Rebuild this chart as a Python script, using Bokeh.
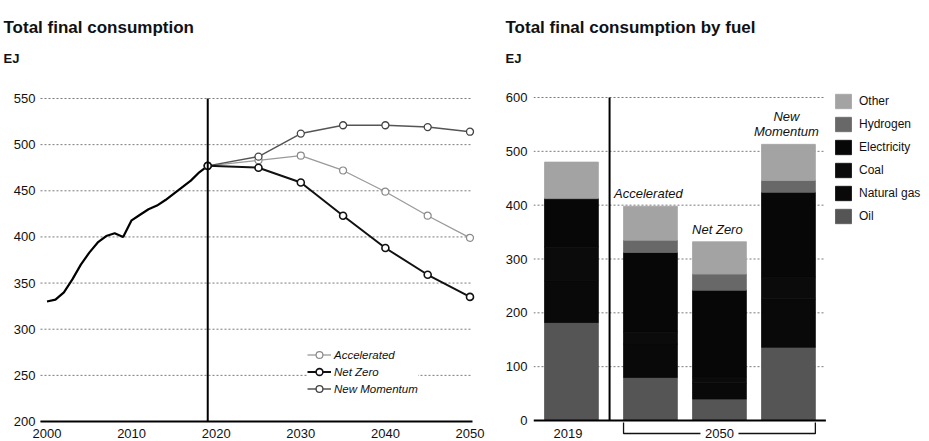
from bokeh.plotting import figure
from bokeh.layouts import row, column
from bokeh.models import (Range1d, FixedTicker, Legend, LegendItem, ColumnDataSource)
from bokeh.core.properties import value
from bokeh.embed import file_html
from bokeh.resources import INLINE

FONT = "Liberation Sans"

# ---------------- data: left chart (EJ) ----------------
hist_years = list(range(2000, 2020))
hist_values = [330, 332, 340, 354, 370, 383, 394, 401, 404, 400,
               418, 424, 430, 434, 440, 447, 454, 461, 470, 477]
scen_years = [2019, 2025, 2030, 2035, 2040, 2045, 2050]
accelerated = [477, 483, 488, 472, 449, 423, 399]
net_zero = [477, 475, 459, 423, 388, 359, 335]
new_momentum = [477, 487, 512, 521, 521, 519, 514]
y_ticks_left = [200, 250, 300, 350, 400, 450, 500, 550]
x_ticks_left = [2000, 2010, 2020, 2030, 2040, 2050]
split_year = 2019

# ---------------- data: right chart (EJ) ----------------
bar_labels = ["2019", "Accelerated", "Net Zero", "New\nMomentum"]
fuels = ["Oil", "Natural gas", "Coal", "Electricity", "Hydrogen", "Other"]
oil = [182, 80, 40, 136]
natural_gas = [78, 62, 30, 90]
coal = [62, 22, 10, 40]
electricity = [90, 148, 162, 158]
hydrogen = [1, 23, 30, 22]
other = [67, 63, 60, 67]
y_ticks_right = [0, 100, 200, 300, 400, 500, 600]
group_label = "2050"

titles = ["Total final consumption", "Total final consumption by fuel"]
unit_label = "EJ"

fuel_colors = ["#555555", "#090909", "#0b0b0b", "#070707", "#686868", "#a3a3a3"]
GRID_COLOR = "#7a7a7a"
GRID_DASH = "2 2"

PAGE_W, PAGE_H = 929, 441
TITLE_H = 80
LEFT_W = 490
RIGHT_W = PAGE_W - LEFT_W
CHART_H = PAGE_H - TITLE_H


def base_fig(**kw):
    p = figure(output_backend="svg", toolbar_location=None, **kw)
    p.outline_line_color = None
    p.background_fill_color = "white"
    p.border_fill_color = "white"
    return p


def style_yaxis(p, ticks, standoff):
    p.yaxis.ticker = FixedTicker(ticks=ticks)
    p.yaxis.axis_line_color = None
    p.yaxis.major_tick_line_color = None
    p.yaxis.minor_tick_line_color = None
    p.yaxis.major_tick_out = 0
    p.yaxis.major_tick_in = 0
    p.yaxis.major_label_standoff = standoff
    p.yaxis.major_label_text_font = FONT
    p.yaxis.major_label_text_font_size = "13px"
    p.yaxis.major_label_text_color = "#111111"


# ================= TITLE STRIPS =================
def title_fig(width, text_x, title):
    t = base_fig(width=width, height=TITLE_H, x_range=Range1d(0, width),
                 y_range=Range1d(TITLE_H, 0), x_axis_location=None, y_axis_location=None,
                 min_border_left=0, min_border_right=0, min_border_top=0, min_border_bottom=0)
    t.grid.visible = False
    t.text(x=[text_x], y=[27], text=[title], text_font=value(FONT), text_font_size="17px",
           text_font_style="bold", text_color="#111111", text_baseline="alphabetic")
    t.text(x=[text_x], y=[58], text=[unit_label], text_font=value(FONT), text_font_size="13px",
           text_font_style="bold", text_color="#111111", text_baseline="alphabetic")
    return t


t1 = title_fig(LEFT_W, 3, titles[0])
t2 = title_fig(RIGHT_W, 505 - LEFT_W, titles[1])

# ================= LEFT CHART =================
L_BL = 30                      # frame left on the page
X2000_PAGE, X2050_PAGE = 46.5, 469.5
GRID_L_PAGE, GRID_R_PAGE = 40, 472
ppx1 = (X2050_PAGE - X2000_PAGE) / 50.0
L_X0 = 2000 - (X2000_PAGE - L_BL) / ppx1
L_X1 = 2050 + (LEFT_W - X2050_PAGE) / ppx1
L_550_PAGE, L_200_PAGE = 98, 421
ppy1 = (L_200_PAGE - L_550_PAGE) / 350.0
L_Y1 = 550 + (L_550_PAGE - TITLE_H) / ppy1
L_Y0 = 200 - (PAGE_H - L_200_PAGE) / ppy1


def lx(page_x):
    return 2000 + (page_x - X2000_PAGE) / ppx1


def ly(page_y):
    return 200 + (L_200_PAGE - page_y) / ppy1


p1 = base_fig(width=LEFT_W, height=CHART_H, x_range=Range1d(L_X0, L_X1),
              y_range=Range1d(L_Y0, L_Y1), x_axis_location=None,
              min_border_left=L_BL, min_border_right=0, min_border_top=0,
              min_border_bottom=0)
p1.grid.visible = False
style_yaxis(p1, y_ticks_left, -5)

gx0, gx1 = lx(GRID_L_PAGE), lx(GRID_R_PAGE)
p1.segment(x0=[gx0] * len(y_ticks_left), y0=y_ticks_left,
           x1=[gx1] * len(y_ticks_left), y1=y_ticks_left,
           line_color=GRID_COLOR, line_dash=GRID_DASH, line_width=1)

p1.line(hist_years, hist_values, line_color="black", line_width=2.2)

r_acc_l = p1.line(scen_years, accelerated, line_color="#9a9a9a", line_width=1.3)
r_acc_s = p1.scatter(scen_years, accelerated, marker="circle", size=7, fill_color="white",
                     line_color="#8a8a8a", line_width=1.2)
r_nm_l = p1.line(scen_years, new_momentum, line_color="#555555", line_width=1.5)
r_nm_s = p1.scatter(scen_years, new_momentum, marker="circle", size=7, fill_color="white",
                    line_color="#444444", line_width=1.3)
r_nz_l = p1.line(scen_years, net_zero, line_color="#111111", line_width=2.0)
r_nz_s = p1.scatter(scen_years, net_zero, marker="circle", size=7, fill_color="white",
                    line_color="#111111", line_width=1.6)

# 2019 divider, x-axis baseline and x tick labels
p1.segment(x0=[split_year], y0=[y_ticks_left[0]], x1=[split_year], y1=[y_ticks_left[-1]],
           line_color="black", line_width=2)
p1.segment(x0=[gx0], y0=[y_ticks_left[0]], x1=[gx1], y1=[y_ticks_left[0]],
           line_color="black", line_width=2)
p1.text(x=x_ticks_left, y=[ly(433)] * len(x_ticks_left), text=[str(v) for v in x_ticks_left],
        text_font=value(FONT), text_font_size="13px", text_color="#111111",
        text_align="center", text_baseline="middle")

leg1 = Legend(items=[
    LegendItem(label="Accelerated", renderers=[r_acc_l, r_acc_s]),
    LegendItem(label="Net Zero", renderers=[r_nz_l, r_nz_s]),
    LegendItem(label="New Momentum", renderers=[r_nm_l, r_nm_s]),
], location=(307 - L_BL, PAGE_H - 397), orientation="vertical")
leg1.label_text_font = FONT
leg1.label_text_font_size = "11.5px"
leg1.label_text_font_style = "italic"
leg1.label_text_color = "#111111"
leg1.glyph_width = 24
leg1.glyph_height = 17
leg1.label_height = 17
leg1.label_standoff = 3
leg1.spacing = 0
leg1.padding = 5
leg1.margin = 0
leg1.border_line_color = None
leg1.background_fill_color = "white"
leg1.background_fill_alpha = 1.0
p1.add_layout(leg1, "center")

# ================= RIGHT CHART =================
R_FRAME_LEFT, R_GRID_RIGHT = 533, 824
R_Y600_PAGE, R_Y0_PAGE = 97, 420
R_PX_PER_X = 69.0
R_X0 = -0.55
R_X_GRID_END = R_X0 + (R_GRID_RIGHT - R_FRAME_LEFT) / R_PX_PER_X
R_X1 = R_X0 + (PAGE_W - R_FRAME_LEFT) / R_PX_PER_X
ppy2 = (R_Y0_PAGE - R_Y600_PAGE) / 600.0
R_Y1 = 600 + (R_Y600_PAGE - TITLE_H) / ppy2
R_Y0 = -(PAGE_H - R_Y0_PAGE) / ppy2


def ry(page_y):
    return (R_Y0_PAGE - page_y) / ppy2


p2 = base_fig(width=RIGHT_W, height=CHART_H, x_range=Range1d(R_X0, R_X1),
              y_range=Range1d(R_Y0, R_Y1), x_axis_location=None,
              min_border_left=R_FRAME_LEFT - LEFT_W, min_border_right=0, min_border_top=0,
              min_border_bottom=0)
p2.grid.visible = False
style_yaxis(p2, y_ticks_right, 6)

grid_levels = y_ticks_right[1:]
p2.segment(x0=[R_X0] * len(grid_levels), y0=grid_levels,
           x1=[R_X_GRID_END] * len(grid_levels), y1=grid_levels,
           line_color=GRID_COLOR, line_dash=GRID_DASH, line_width=1)

bar_width = 0.78
group_offset = 1.145
bar_x = [0.0] + [group_offset + i for i in range(len(bar_labels) - 1)]

src = ColumnDataSource(dict(x=bar_x, **{
    "Oil": oil, "Natural gas": natural_gas, "Coal": coal,
    "Electricity": electricity, "Hydrogen": hydrogen, "Other": other}))
bar_rs = p2.vbar_stack(fuels, x="x", width=bar_width, source=src,
                       fill_color=fuel_colors, line_color=fuel_colors, line_width=0.8)

totals = [sum(v) for v in zip(oil, natural_gas, coal, electricity, hydrogen, other)]

sep_x = (bar_x[0] + bar_x[1]) / 2 - 0.02
p2.segment(x0=[R_X0], y0=[0], x1=[R_X_GRID_END + 0.02], y1=[0], line_color="black", line_width=2)
p2.segment(x0=[sep_x], y0=[0], x1=[sep_x], y1=[600], line_color="black", line_width=2)

pad = 5 / ppy2
p2.text(x=[bx - 0.03 for bx in bar_x[1:]], y=[t + pad for t in totals[1:]],
        text=bar_labels[1:], text_font=value(FONT), text_font_size="13px",
        text_font_style="italic", text_color="#111111", text_align="center",
        text_baseline="bottom", text_line_height=1.05)

y_lab = ry(433)
y_tick_top = ry(422)
left_end = bar_x[1] - bar_width / 2
right_end = bar_x[-1] + bar_width / 2
mid = bar_x[2]
gap = 19 / R_PX_PER_X
p2.multi_line(xs=[[left_end, left_end, mid - gap], [mid + gap, right_end, right_end]],
              ys=[[y_tick_top, y_lab, y_lab], [y_lab, y_lab, y_tick_top]],
              line_color="#111111", line_width=1.3)
p2.text(x=[bar_x[0] - 0.05, mid], y=[y_lab, y_lab], text=[bar_labels[0], group_label],
        text_font=value(FONT), text_font_size="13px", text_color="#111111",
        text_align="center", text_baseline="middle")

leg2 = Legend(items=[LegendItem(label=f, renderers=[r]) for f, r in
                     reversed(list(zip(fuels, bar_rs)))],
              location=(833 - R_FRAME_LEFT, PAGE_H - 225), orientation="vertical")
leg2.label_text_font = FONT
leg2.label_text_font_size = "12px"
leg2.label_text_color = "#111111"
leg2.glyph_width = 20
leg2.glyph_height = 18
leg2.label_height = 18
leg2.label_standoff = 6
leg2.spacing = 5
leg2.padding = 0
leg2.margin = 0
leg2.border_line_color = None
leg2.background_fill_alpha = 0
p2.add_layout(leg2, "center")

layout = column(row(t1, t2, spacing=0), row(p1, p2, spacing=0), spacing=0)
open("out.html", "w").write(file_html(layout, INLINE))
